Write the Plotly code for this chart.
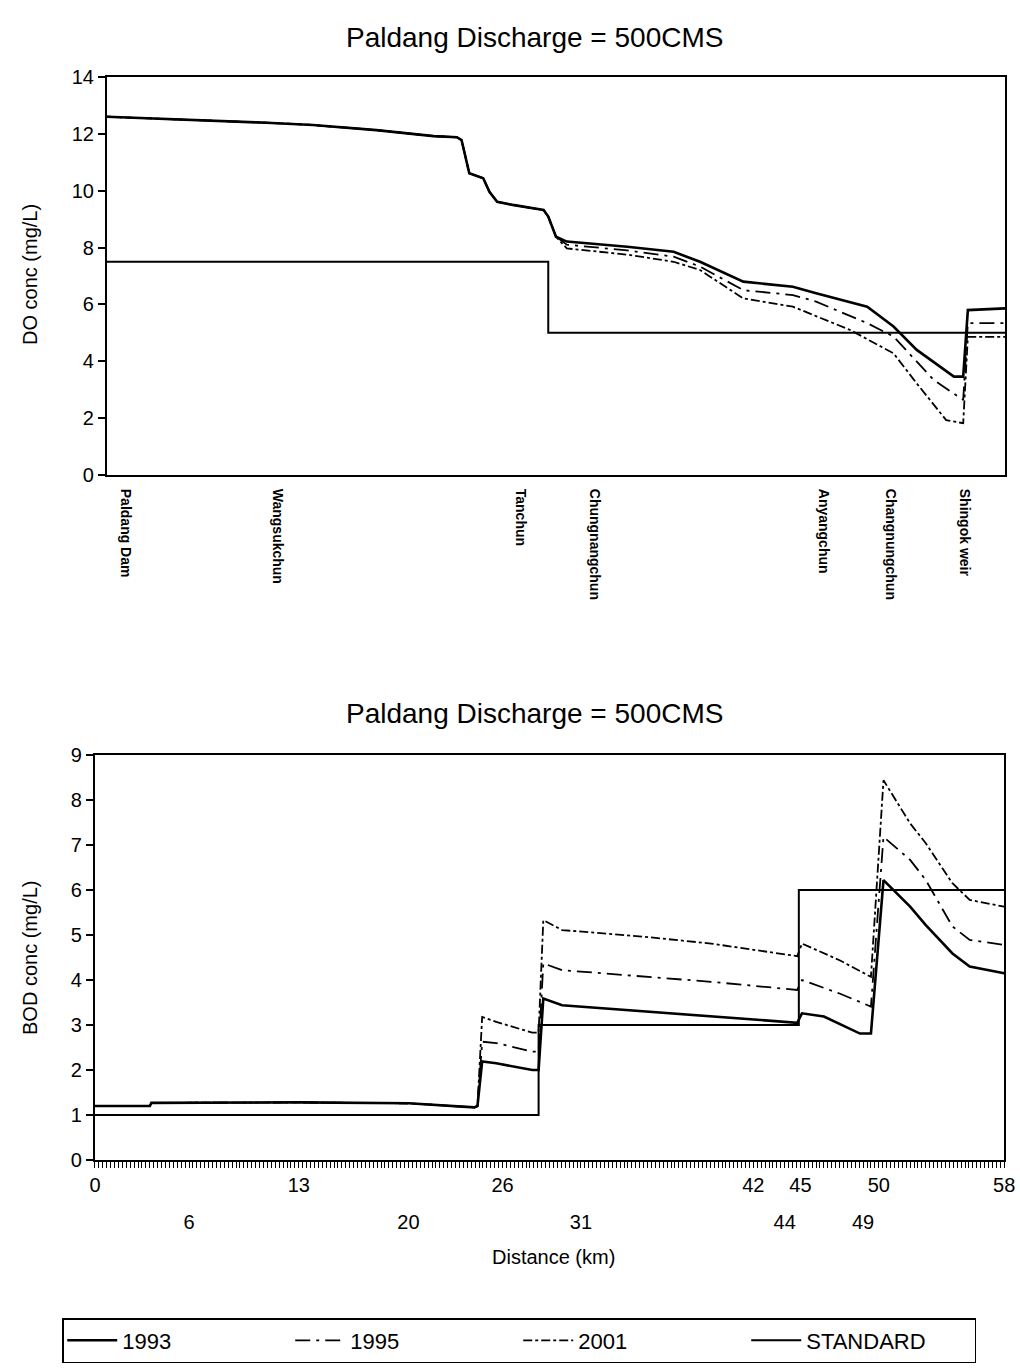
import plotly.graph_objects as go

# ---------------- DATA ----------------
SERIES_NAMES = ["1993", "1995", "2001", "STANDARD"]

# DO (mg/L) vs distance (km) -- common upstream part (all scenarios coincide)
DO_COMMON_KM = [0, 6.0, 10.3, 13.3, 17.4, 21.1, 22.6, 22.9, 23.4, 24.3, 24.7, 25.2, 26.2, 28.2, 28.5, 29.0]
DO_COMMON = [12.6, 12.49, 12.39, 12.31, 12.13, 11.92, 11.88, 11.78, 10.61, 10.44, 9.96, 9.61, 9.5, 9.32, 9.09, 8.38]

DO_1993_KM = [29.7, 33.6, 36.6, 38.3, 41.1, 44.3, 45.8, 49.1, 50.8, 52.3, 54.7, 55.3, 55.6, 58]
DO_1993 = [8.21, 8.03, 7.85, 7.5, 6.8, 6.62, 6.39, 5.92, 5.22, 4.4, 3.46, 3.46, 5.8, 5.86]

DO_1995_KM = [29.7, 33.6, 36.6, 38.3, 41.1, 44.3, 45.8, 49.1, 50.8, 53.4, 55.3, 55.6, 58]
DO_1995 = [8.1, 7.9, 7.68, 7.33, 6.5, 6.33, 6.1, 5.34, 4.87, 3.34, 2.64, 5.34, 5.34]

DO_2001_KM = [29.7, 33.6, 36.6, 38.3, 41.1, 44.3, 48.0, 50.8, 52.3, 54.2, 55.3, 55.6, 58]
DO_2001 = [7.97, 7.75, 7.5, 7.21, 6.21, 5.92, 5.1, 4.28, 3.22, 1.93, 1.82, 4.86, 4.86]

DO_STD_KM = [0, 28.5, 28.5, 58]
DO_STD = [7.5, 7.5, 5.0, 5.0]

# BOD (mg/L) vs distance (km)
BOD_COMMON_KM = [0, 3.5, 3.6, 13, 20, 23.2, 24.2, 24.4]
BOD_COMMON = [1.2, 1.2, 1.27, 1.28, 1.26, 1.2, 1.17, 1.2]

BOD_1993_KM = [24.7, 25.6, 27.9, 28.3, 28.6, 29.8, 35.1, 39.3, 44.8, 45.1, 46.5, 48.8, 49.5, 50.3, 52.0, 53.0, 54.7, 55.8, 58]
BOD_1993 = [2.19, 2.15, 2.0, 2.0, 3.59, 3.44, 3.3, 3.19, 3.05, 3.26, 3.19, 2.81, 2.81, 6.22, 5.63, 5.22, 4.59, 4.3, 4.15]

BOD_1995_KM = [24.7, 25.6, 27.9, 28.3, 28.6, 29.8, 35.1, 39.3, 44.8, 45.1, 47.5, 49.5, 50.3, 52.0, 53.0, 54.7, 55.8, 58]
BOD_1995 = [2.63, 2.6, 2.41, 2.41, 4.37, 4.22, 4.07, 3.96, 3.78, 4.0, 3.7, 3.41, 7.18, 6.67, 6.22, 5.19, 4.89, 4.78]

BOD_2001_KM = [24.7, 25.6, 27.9, 28.3, 28.6, 29.8, 35.1, 39.3, 44.8, 45.1, 47.5, 49.5, 50.3, 52.0, 53.0, 54.7, 55.8, 58]
BOD_2001 = [3.18, 3.07, 2.83, 2.83, 5.33, 5.11, 4.96, 4.81, 4.53, 4.81, 4.44, 4.07, 8.44, 7.48, 7.04, 6.15, 5.78, 5.63]

BOD_STD_KM = [0, 28.3, 28.3, 44.9, 44.9, 58]
BOD_STD = [1, 1, 3, 3, 6, 6]

# Stations (top chart labels)
STATION_KM = [1.2, 11.0, 26.7, 31.5, 46.3, 50.6, 55.4]
STATION_NAMES = ["Paldang Dam", "Wangsukchun", "Tanchun", "Chungnangchun",
                 "Anyangchun", "Changnungchun", "Shingok weir"]

# Distance tick labels (bottom chart, two staggered rows)
KM_TICKS_ROW1 = [0, 13, 26, 42, 45, 50, 58]
KM_TICKS_ROW2 = [6, 20, 31, 44, 49]

DO_TICKS = [0, 2, 4, 6, 8, 10, 12, 14]
BOD_TICKS = [0, 1, 2, 3, 4, 5, 6, 7, 8, 9]

TITLE_TOP = "Paldang Discharge = 500CMS"
TITLE_BOTTOM = "Paldang Discharge = 500CMS"

# ---------------- STYLE ----------------
FONT = "Liberation Sans, Arial, sans-serif"
TICKFONT = dict(family=FONT, size=20, color="black")
STYLES = {
    "1993": dict(color="black", width=2.6, dash="solid"),
    "1995": dict(color="black", width=1.8, dash="longdashdot"),
    "2001": dict(color="black", width=1.8, dash="dashdot"),
    "STANDARD": dict(color="black", width=2.0, dash="solid"),
}

fig = go.Figure()

do_sets = {
    "1993": (DO_COMMON_KM + DO_1993_KM, DO_COMMON + DO_1993),
    "1995": (DO_COMMON_KM + DO_1995_KM, DO_COMMON + DO_1995),
    "2001": (DO_COMMON_KM + DO_2001_KM, DO_COMMON + DO_2001),
    "STANDARD": (DO_STD_KM, DO_STD),
}
bod_sets = {
    "1993": (BOD_COMMON_KM + BOD_1993_KM, BOD_COMMON + BOD_1993),
    "1995": (BOD_COMMON_KM + BOD_1995_KM, BOD_COMMON + BOD_1995),
    "2001": (BOD_COMMON_KM + BOD_2001_KM, BOD_COMMON + BOD_2001),
    "STANDARD": (BOD_STD_KM, BOD_STD),
}

for name in SERIES_NAMES:
    x, y = do_sets[name]
    fig.add_trace(go.Scatter(x=x, y=y, mode="lines", name=name, line=STYLES[name],
                             xaxis="x", yaxis="y", showlegend=True, legendgroup=name))
for name in SERIES_NAMES:
    x, y = bod_sets[name]
    fig.add_trace(go.Scatter(x=x, y=y, mode="lines", name=name, line=STYLES[name],
                             xaxis="x2", yaxis="y2", showlegend=False, legendgroup=name))

# invisible trace to activate second-row tick axis
fig.add_trace(go.Scatter(x=[None], y=[None], mode="lines", xaxis="x3", yaxis="y2",
                         showlegend=False, hoverinfo="skip"))

axis_common = dict(showline=True, linecolor="black", linewidth=2, mirror=True,
                   showgrid=False, zeroline=False, automargin=False)

BOTTOM_DOMAIN = [0.0931, 0.9845]

fig.update_layout(
    width=1020, height=1372,
    margin=dict(l=0, r=0, t=0, b=0),
    paper_bgcolor="white", plot_bgcolor="white",
    font=dict(family=FONT, color="black"),
    xaxis=dict(**axis_common, domain=[0.1049, 0.9853], range=[0, 58], anchor="y",
               tickmode="array", tickvals=STATION_KM, ticktext=STATION_NAMES,
               tickangle=90, ticks="", ticklabelstandoff=9,
               tickfont=dict(family=FONT, size=14, color="black", weight="bold")),
    yaxis=dict(**axis_common, domain=[0.6538, 0.9439], range=[0, 14], anchor="x",
               tickmode="array", tickvals=DO_TICKS, ticks="outside", ticklen=7,
               tickwidth=1.5, tickcolor="black", tickfont=TICKFONT),
    xaxis2=dict(**axis_common, domain=BOTTOM_DOMAIN, range=[0, 58], anchor="y2",
                tickmode="array", tickvals=KM_TICKS_ROW1, tickfont=TICKFONT,
                ticks="outside", ticklen=6, tickwidth=1, tickcolor="black",
                ticklabelstandoff=0, ticklabeloverflow="allow",
                minor=dict(ticks="outside", ticklen=6, tickmode="linear",
                           tick0=0, dtick=0.25, tickcolor="black", tickwidth=1)),
    xaxis3=dict(domain=BOTTOM_DOMAIN, range=[0, 58], anchor="y2", overlaying="x2",
                side="bottom", showline=False, showgrid=False, zeroline=False,
                automargin=False, tickmode="array", tickvals=KM_TICKS_ROW2,
                ticks="", ticklabelstandoff=48, tickfont=TICKFONT),
    yaxis2=dict(**axis_common, domain=[0.1545, 0.4497], range=[0, 9], anchor="x2",
                tickmode="array", tickvals=BOD_TICKS, ticks="outside", ticklen=7,
                tickwidth=1.5, tickcolor="black", tickfont=TICKFONT),
    legend=dict(orientation="h", x=0.061, y=1 - 1318 / 1372, xanchor="left", yanchor="top",
                bordercolor="black", borderwidth=1.5, bgcolor="white",
                font=dict(family=FONT, size=22, color="black"),
                entrywidth=163, entrywidthmode="pixels", itemwidth=50,
                tracegroupgap=0),
    annotations=[
        dict(text=TITLE_TOP, x=0.5245, y=1 - 37 / 1372, xref="paper", yref="paper",
             showarrow=False, font=dict(family=FONT, size=28, color="black"),
             xanchor="center", yanchor="middle"),
        dict(text=TITLE_BOTTOM, x=0.5245, y=1 - 713 / 1372, xref="paper", yref="paper",
             showarrow=False, font=dict(family=FONT, size=28, color="black"),
             xanchor="center", yanchor="middle"),
        dict(text="DO conc (mg/L)", x=30 / 1020, y=1 - 275 / 1372, xref="paper", yref="paper",
             showarrow=False, textangle=-90, font=dict(family=FONT, size=20, color="black"),
             xanchor="center", yanchor="middle"),
        dict(text="BOD conc (mg/L)", x=30 / 1020, y=1 - 958 / 1372, xref="paper", yref="paper",
             showarrow=False, textangle=-90, font=dict(family=FONT, size=20, color="black"),
             xanchor="center", yanchor="middle"),
        dict(text="Distance (km)", x=553 / 1020, y=1 - 1257 / 1372, xref="paper", yref="paper",
             showarrow=False, font=dict(family=FONT, size=20, color="black"),
             xanchor="center", yanchor="middle"),
    ],
)

fig.write_html("out.html", config={"displayModeBar": False},
               post_script="document.body.style.margin='0';")
